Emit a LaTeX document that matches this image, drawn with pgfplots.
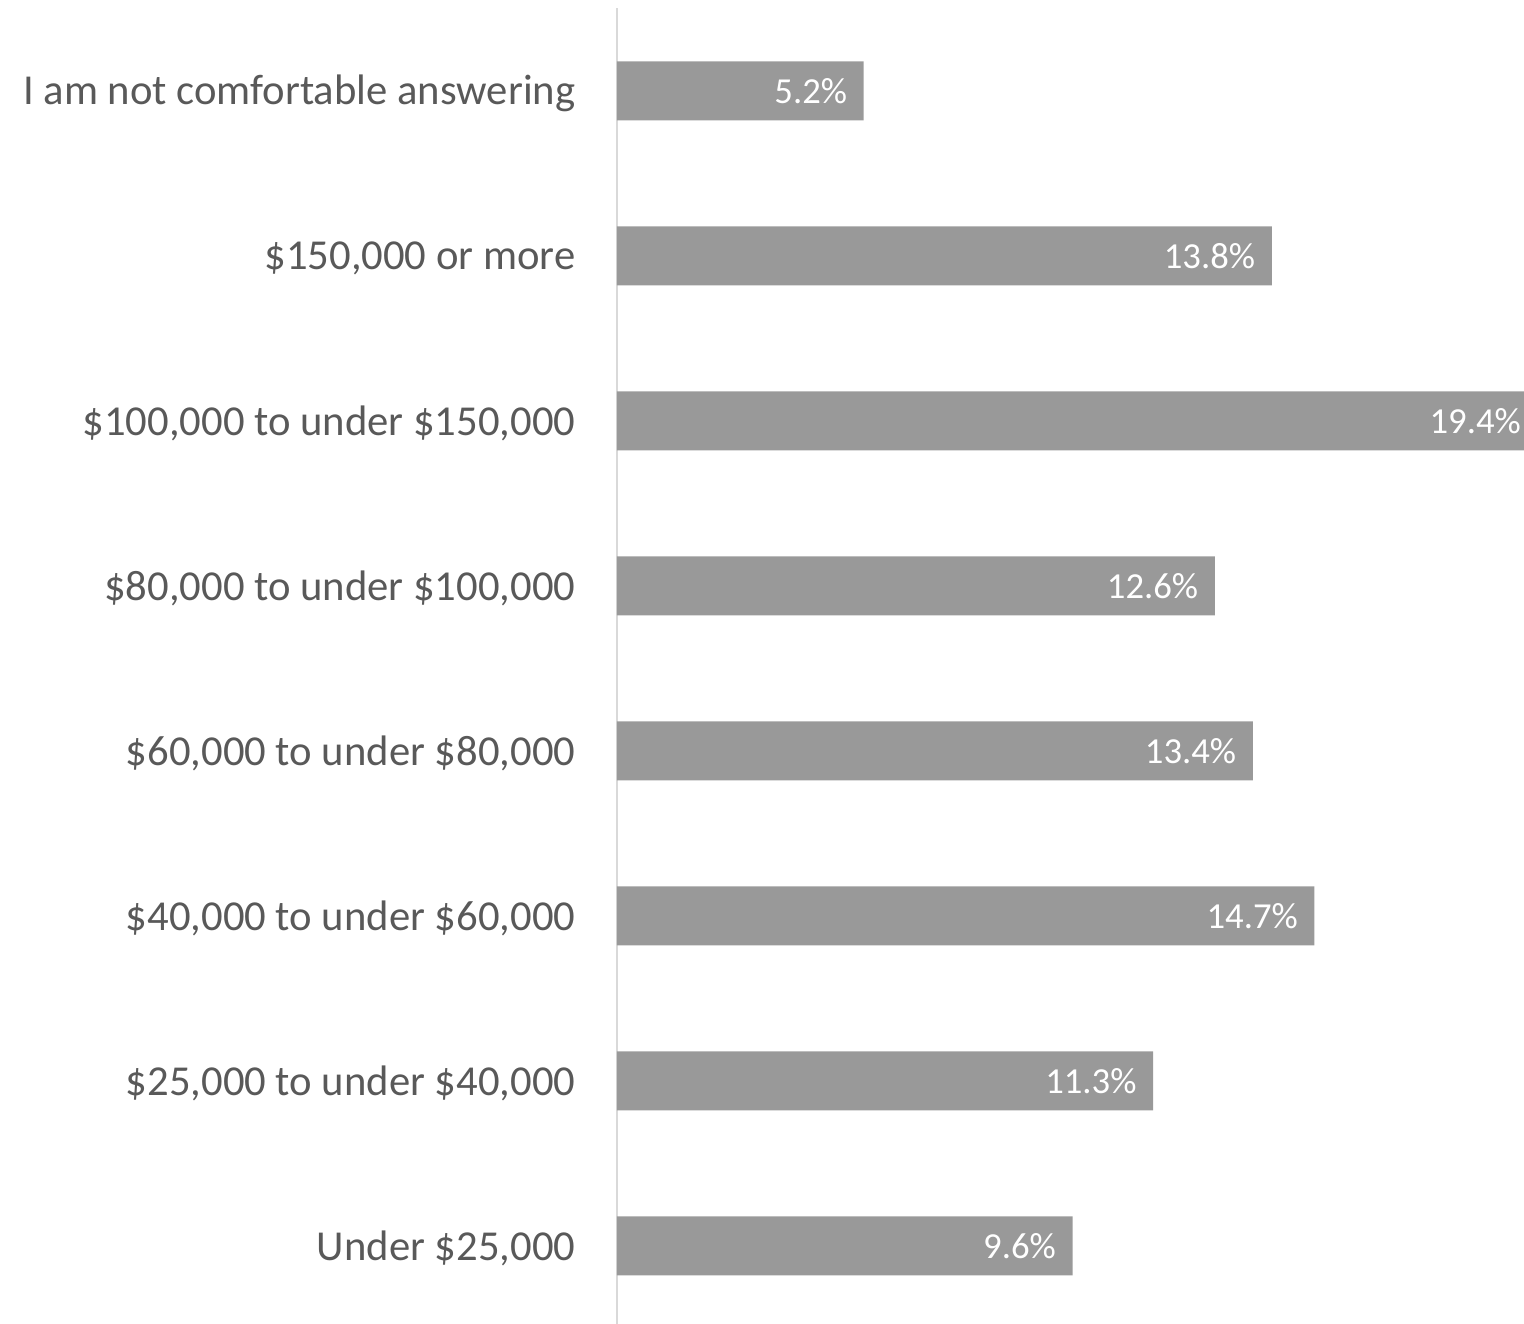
\documentclass[border=0pt]{standalone}
\usepackage{pgfplots}
\pgfplotsset{compat=1.18}
\usepackage{fontspec}
\setmainfont{Carlito}
\definecolor{barc}{HTML}{999999}
\definecolor{txt}{HTML}{595959}
\definecolor{axl}{HTML}{D9D9D9}
\begin{document}
\begin{tikzpicture}
\begin{axis}[
  name=a,
  scale only axis,
  width=276.15pt, height=394.8pt,
  xbar, bar width=17.7pt,
  xmin=0, xmax=19.4,
  ymin=-0.473, ymax=7.503,
  axis x line=none,
  axis y line*=left,
  y axis line style={draw=axl, line width=0.8pt},
  ytick={0,...,7},
  yticklabels={{Under \$25,000}, {\$25,000 to under \$40,000}, {\$40,000 to under \$60,000}, {\$60,000 to under \$80,000}, {\$80,000 to under \$100,000}, {\$100,000 to under \$150,000}, {\$150,000 or more}, {I am not comfortable answering}},
  major tick length=0pt,
  yticklabel style={font=\fontsize{12.8pt}{14pt}\selectfont, text=txt, inner sep=0pt, xshift=-12.3pt, yshift=-0.7pt},
  /pgf/number format/assume math mode=true,
  nodes near coords={\pgfmathprintnumber[fixed,fixed zerofill,precision=1,assume math mode=true]{\pgfplotspointmeta}\%},
  every node near coord/.append style={anchor=east, inner sep=0pt, xshift=-4.8pt, text=white, font=\fontsize{11pt}{13pt}\selectfont},
]
\addplot[fill=barc, draw=none] coordinates {
(9.6,0) (11.3,1) (14.7,2) (13.4,3) (12.6,4) (19.4,5) (13.8,6) (5.2,7)
};
\end{axis}
\pgfresetboundingbox
\path ([xshift=-185.1pt]a.south west) rectangle ([xshift=-4.05pt,yshift=2.4pt]a.north east);
\end{tikzpicture}
\end{document}
